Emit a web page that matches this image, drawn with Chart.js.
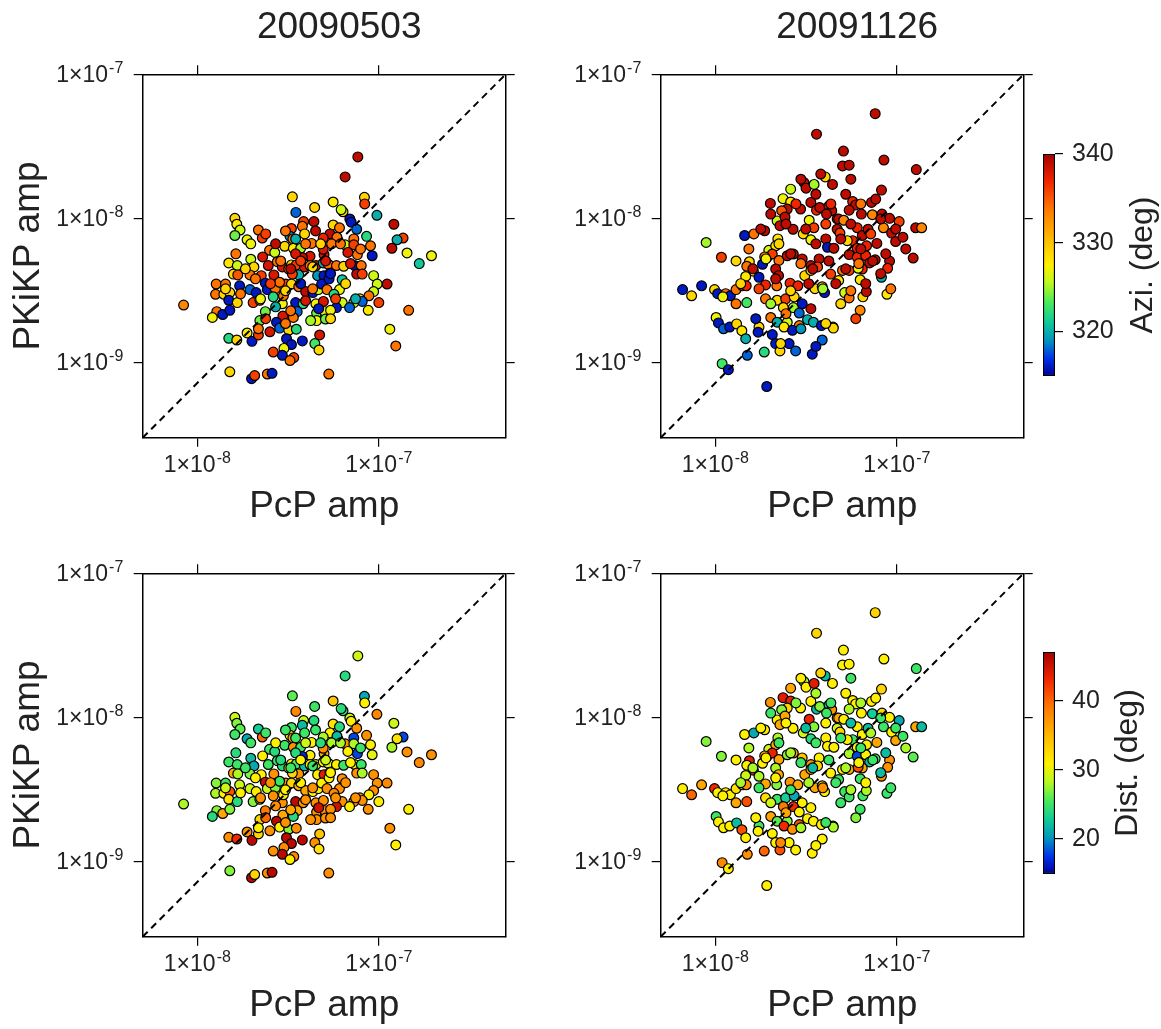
<!DOCTYPE html>
<html>
<head>
<meta charset="utf-8">
<title>PcP / PKiKP amplitudes</title>
<script src="https://cdn.jsdelivr.net/npm/chart.js@4.4.1/dist/chart.umd.min.js"></script>
<style>
  html, body { margin: 0; padding: 0; background: #fff; }
  #fig { position: relative; width: 1161px; height: 1029px; overflow: hidden; background: #fff; }
  #fig canvas { position: absolute; }
</style>
</head>
<body>
<div id="fig">
  <canvas id="p1" width="520" height="530" style="left:0;top:0"></canvas>
  <canvas id="p2" width="520" height="530" style="left:518px;top:0"></canvas>
  <canvas id="p3" width="520" height="530" style="left:0;top:499px"></canvas>
  <canvas id="p4" width="520" height="530" style="left:518px;top:499px"></canvas>
  <canvas id="cb1" width="131" height="270" style="left:1030px;top:130px"></canvas>
  <canvas id="cb2" width="131" height="270" style="left:1030px;top:628px"></canvas>
</div>
<script>
var FONT = "'Liberation Sans', Arial, Helvetica, sans-serif";

// event 20090503 (amplitudes in units of 1e-9)
var aPcp = [
  33.4, 44.3, 34.9, 16.1, 16.5, 17.2, 16.1, 18.8, 21.7, 22.8,
  38.5, 43.9, 33.0, 37.9, 39.0, 32.4, 33.6, 30.3, 33.8, 37.1,
  42.6, 49.9, 25.0, 26.7, 19.7, 20.5, 14.9, 16.6, 15.8, 16.7,
  19.5, 22.5, 24.6, 26.4, 27.6, 29.4, 31.9, 33.0, 35.1, 36.2,
  33.4, 38.9, 41.8, 37.9, 41.8, 45.0, 49.4, 52.6, 46.0, 49.9,
  12.7, 14.3, 12.6, 14.0, 15.1, 14.9, 16.6, 17.1, 19.5, 21.1,
  23.7, 24.3, 26.9, 30.7, 28.4, 33.0, 36.2, 39.5, 43.3, 46.4,
  48.4, 51.8, 20.3, 22.1, 26.2, 29.4, 29.8, 34.8, 38.3, 45.0,
  49.5, 8.4, 12.8, 13.8, 15.1, 12.1, 23.7, 29.6, 35.5, 33.8,
  45.4, 50.4, 22.1, 27.3, 28.4, 31.9, 35.1, 45.4, 50.8, 14.9,
  16.5, 18.8, 20.0, 21.7, 21.7, 25.1, 31.0, 33.0, 37.9, 44.4,
  47.2, 46.8, 30.0, 29.4, 26.2, 34.0, 32.4, 15.1, 19.9, 20.7,
  24.3, 25.8, 53.0,
  76.6, 65.2, 56.0, 83.3, 83.6, 63.5, 62.0, 97.6, 121, 136,
  126, 118, 143, 195, 167, 69.2, 70.4, 75.5, 56.0, 60.7,
  53.8, 49.4, 58.8, 72.8, 85.6, 90.0, 91.9, 76.2, 65.2, 72.8,
  67.5, 54.9, 49.4, 58.4, 64.0, 73.6, 80.0, 75.5, 81.0, 93.6,
  98.0, 111, 53.8, 53.2, 62.8, 60.7, 56.6, 93.6, 88.2, 78.6,
  100, 81.0, 72.8, 62.8, 58.4, 69.0, 87.4, 54.2, 146, 115,
  124,
  23.8, 27.0, 30.6, 34.8, 39.5, 44.8, 22.9, 28.8, 32.7, 37.1,
  43.2, 20.9, 25.3, 30.6, 37.1, 43.2, 22.3, 27.0, 32.7, 39.5,
  46.6, 18.4, 16.3, 19.7, 61.5, 69.8, 65.6, 57.8, 74.4, 79.3,
  54.2, 50.9, 17.3, 14.3, 42.1, 30.6, 54.2, 23.8, 34.8, 47.8
];
var aPkikp = [
  14.1, 11.9, 11.0, 10.0, 9.1, 8.3, 7.6, 7.1, 8.3, 7.3,
  9.5, 9.5, 8.5, 8.8, 7.8, 7.5, 7.2, 6.4, 6.2, 6.2,
  6.7, 5.6, 6.0, 5.8, 5.2, 4.6, 4.9, 4.7, 4.1, 4.05,
  4.05, 4.0, 4.7, 4.05, 5.0, 4.6, 4.45, 4.75, 4.75, 4.05,
  4.1, 4.6, 5.45, 5.35, 4.7, 4.7, 4.9, 4.8, 4.0, 4.0,
  3.5, 3.5, 2.97, 2.97, 3.05, 2.7, 2.6, 3.4, 3.2, 3.05,
  3.55, 3.2, 3.25, 3.5, 3.6, 3.5, 3.35, 3.1, 3.05, 3.2,
  3.5, 3.2, 2.6, 2.7, 2.85, 2.55, 2.9, 2.6, 2.55, 2.55,
  2.65, 2.5, 2.25, 2.15, 2.3, 2.05, 2.25, 2.1, 2.25, 2.05,
  2.2, 2.25, 1.95, 1.9, 1.73, 1.67, 1.7, 1.95, 2.0, 1.47,
  1.43, 1.6, 1.4, 1.55, 1.71, 1.63, 1.46, 1.33, 1.41, 1.35,
  1.55, 1.22, 1.25, 1.12, 1.18, 1.08, 1.03, 0.86, 0.77, 0.81,
  0.83, 0.84, 0.83,
  26.7, 19.4, 13.0, 14.0, 12.6, 11.1, 11.5, 10.5, 9.1, 7.3,
  7.1, 6.2, 5.75, 5.5, 4.85, 9.9, 9.4, 8.4, 9.0, 8.6,
  7.8, 7.3, 7.4, 7.2, 7.5, 6.45, 5.5, 5.6, 6.55, 6.55,
  5.8, 6.65, 6.1, 4.7, 4.65, 4.7, 4.7, 4.1, 4.1, 4.0,
  3.5, 3.5, 4.15, 3.8, 3.75, 3.2, 2.97, 3.1, 2.9, 2.76,
  2.6, 2.65, 2.6, 2.6, 2.4, 2.4, 2.3, 2.3, 2.3, 1.7,
  1.3,
  7.8, 6.65, 8.17, 5.67, 6.65, 8.17, 5.4, 5.06, 4.46, 5.06,
  4.6, 3.8, 3.52, 3.14, 3.52, 3.24, 2.76, 2.43, 2.28, 2.68,
  2.36, 4.46, 5.67, 6.65, 6.65, 4.85, 3.52, 2.76, 2.76, 6.13,
  4.13, 5.06, 2.99, 3.24, 1.95, 1.86, 2.01, 2.01, 7.19, 6.65
];
var aAzi = [
  329, 329, 318, 329, 328, 326, 324, 327, 334, 336,
  336, 339, 336, 334, 329, 319, 334, 329, 328, 325,
  334, 338, 334, 326, 326, 329, 328, 326, 329, 335,
  334, 336, 338, 338, 334, 338, 334, 329, 336, 320,
  336, 338, 338, 339, 334, 338, 320, 334, 319, 316,
  334, 334, 334, 329, 329, 316, 329, 316, 318, 316,
  316, 316, 334, 336, 334, 329, 334, 339, 316, 326,
  316, 334, 336, 334, 322, 327, 334, 316, 322, 327,
  338, 333, 334, 316, 316, 327, 324, 338, 318, 334,
  324, 327, 324, 316, 318, 329, 322, 327, 324, 322,
  329, 328, 316, 336, 334, 338, 316, 316, 316, 323,
  338, 329, 327, 316, 336, 336, 334, 329, 316, 336,
  334, 316, 334,
  339, 339, 328, 329, 336, 329, 326, 320, 339, 336,
  320, 339, 327, 327, 321, 316, 316, 318, 329, 334,
  339, 337, 334, 334, 322, 334, 316, 334, 326, 336,
  338, 334, 338, 334, 329, 316, 334, 339, 336, 326,
  326, 339, 316, 316, 321, 327, 322, 326, 334, 329,
  336, 318, 326, 326, 316, 318, 328, 327, 334, 327,
  334,
  336, 339, 334, 338, 334, 339, 338, 334, 339, 336,
  329, 334, 336, 329, 316, 334, 327, 320, 334, 338,
  316, 329, 334, 327, 334, 338, 329, 336, 320, 334,
  316, 338, 334, 329, 325, 334, 329, 336, 320, 329
];
var aDist = [
  26, 25, 38, 29, 27, 26, 25, 21, 23, 40,
  29, 24, 25, 22, 25, 31, 36, 25, 37.5, 25,
  31, 36, 25, 24, 22, 21, 25, 25, 36, 28,
  27, 31, 25, 37.5, 25, 24, 31, 31, 25, 37.5,
  33, 22, 31, 17, 31, 30, 31, 30, 31, 44,
  27, 25, 28, 31, 41, 32, 24, 29, 29, 31,
  45, 29, 27, 37.5, 25, 33, 36, 36, 31, 31,
  31, 37.5, 27, 31, 37.5, 37.5, 31, 46, 37.5, 37.5,
  37.5, 28, 27, 36, 27, 24, 39, 36, 36, 24,
  37.5, 37.5, 33, 46, 31, 27, 37.5, 37.5, 37.5, 37.5,
  43, 37.5, 46, 33, 31, 37.5, 46, 46, 46, 37.5,
  34, 32, 38, 46, 37.5, 38, 31, 27, 46, 33,
  37.5, 46, 37.5,
  29, 24, 34, 21, 31, 24, 24, 38, 29, 18,
  32, 28, 37.5, 37.5, 38, 29, 31, 37.5, 32, 24,
  31, 28, 22, 18, 37.5, 31, 30, 18, 37.5, 28,
  31, 28, 37.5, 31, 25, 31, 25, 37.5, 28, 37.5,
  37.5, 38, 31, 31, 37.5, 37.5, 38, 37.5, 31, 37.5,
  31, 37.5, 37.5, 37.5, 45, 31, 37.5, 37.5, 31, 37.5,
  31,
  25, 31, 25, 24, 29, 25, 31, 24, 25, 31,
  25, 31, 37.5, 31, 31, 37.5, 37.5, 37.5, 36, 37.5,
  45, 25, 24, 25, 28, 31, 37.5, 37.5, 37.5, 25,
  31, 29, 31, 29, 37.5, 37.5, 37.5, 40, 25, 24
];

// event 20091126 (amplitudes in units of 1e-9)
var bPcp = [
  36.1, 40.3, 44.2, 30.8, 31.6, 35.0, 20.1, 23.6, 26.0, 24.9,
  23.2, 29.5, 33.6, 36.1, 32.9, 34.9, 37.6, 42.3, 43.8, 41.0,
  46.9, 21.9, 22.7, 24.2, 26.8, 18.7, 14.5, 16.3, 8.9, 10.8,
  22.1, 30.5, 33.6, 40.6, 41.5, 46.9, 19.7, 21.5, 19.3, 20.6,
  22.4, 24.9, 26.9, 30.1, 33.6, 37.3, 36.6, 43.2,
  15.4, 14.9, 16.2, 18.2,
  18.7, 17.4, 14.7, 21.5, 22.3, 18.9, 21.8, 25.8, 28.5, 31.1,
  33.6, 35.4, 38.8, 40.0, 6.6, 7.4, 8.4, 9.9, 10.3, 11.4,
  12.1, 13.0, 14.1, 14.8, 14.9, 18.9, 21.9, 24.4, 27.2, 30.1,
  23.7, 26.9, 29.0, 20.2, 21.9, 24.9, 29.0, 32.2, 34.7, 38.4,
  44.5, 10.1, 10.4, 11.1, 12.0, 13.1, 14.0, 17.4, 17.2, 20.6,
  23.9, 26.6, 21.5, 25.5, 22.7, 27.7, 34.2, 38.8, 15.0, 18.6,
  10.9, 11.8, 19.2,
  76.0, 50.8, 50.2, 54.6, 84.9, 128, 82.3, 72.5, 57.1, 59.3,
  54.6, 63.8, 73.3, 82.8, 91.2, 103, 47.8, 51.0, 84.4, 93.6,
  98.5, 108, 127, 137, 48.6, 60.5, 64.5, 69.4, 57.1, 53.3,
  77.6, 68.1, 60.5, 45.0, 54.6, 60.5, 67.4, 76.0, 91.2, 89.0,
  123, 70.8, 64.5, 50.2, 54.6, 61.2, 82.3, 47.8, 62.8, 51.6,
  54.6, 65.0, 67.9, 88.2, 62.8, 44.7,
  20.2, 24.5, 27.8, 31.5, 35.8, 40.6, 49.1, 55.8, 63.3, 71.8,
  81.5, 22.4, 26.0, 29.6, 34.4, 42.2, 52.3, 61.7, 73.7, 86.9,
  19.0, 16.1, 13.8, 17.4, 21.5, 26.0, 32.7, 39.1, 46.1, 55.8,
  67.4, 81.5, 17.8, 15.3, 13.0, 29.6, 35.8, 43.3, 52.3, 63.3,
  26.0, 38.1, 55.8, 76.5, 98.6, 112, 92.6, 49.1, 33.6, 24.5,
  20.2, 16.7, 29.6, 40.6, 59.4, 13.0, 11.0, 14.7, 22.9, 35.8
];
var bPkikp = [
  38.4, 19.4, 17.2, 17.7, 16.2, 17.2, 12.7, 13.7, 13.0, 11.6,
  11.3, 11.6, 12.9, 11.4, 9.7, 8.6, 11.9, 12.2, 11.3, 10.7,
  9.9, 9.6, 8.9, 10.2, 8.4, 8.2, 7.6, 7.8, 6.8, 5.37,
  7.2, 7.8, 7.1, 7.2, 6.3, 8.4, 6.0, 6.45, 5.37, 5.65,
  5.1, 5.5, 5.65, 5.23, 4.7, 5.23, 4.6, 4.1,
  5.0, 4.65, 4.3, 4.8,
  5.4, 3.9, 3.95, 4.45, 4.0, 3.45, 3.4, 3.55, 3.4, 4.0,
  4.35, 3.25, 3.35, 3.05, 3.2, 2.9, 3.4, 3.2, 3.0, 3.0,
  2.9, 3.2, 3.4, 3.4, 2.6, 2.76, 2.7, 2.76, 2.85, 2.55,
  2.4, 2.4, 2.2, 2.05, 1.9, 1.9, 1.8, 1.98, 1.9, 1.8,
  1.76, 2.05, 1.88, 1.71, 1.76, 1.85, 1.66, 1.76, 1.62, 1.56,
  1.76, 1.67, 1.35, 1.35, 1.2, 1.2, 1.14, 1.43, 1.12, 1.18,
  0.98, 0.89, 0.68,
  53.3, 29.3, 23.1, 23.4, 25.4, 21.8, 15.7, 12.9, 13.1, 12.4,
  11.4, 10.7, 10.6, 10.7, 10.0, 9.5, 9.9, 9.7, 8.6, 7.9,
  6.9, 7.4, 8.6, 8.6, 7.9, 8.6, 7.6, 8.4, 7.0, 7.0,
  6.7, 6.45, 6.2, 6.2, 5.6, 5.37, 5.5, 5.15, 5.05, 4.5,
  5.3, 4.9, 4.45, 4.35, 4.35, 4.5, 3.9, 3.7, 3.75, 3.05,
  2.8, 2.85, 3.1, 2.97, 2.3, 1.73,
  10.7, 9.13, 12.6, 8.43, 6.65, 9.13, 7.19, 9.13, 6.13, 7.8,
  9.9, 6.65, 5.67, 4.85, 4.46, 5.06, 4.46, 4.85, 5.06, 5.67,
  5.23, 4.46, 3.52, 3.24, 3.8, 3.14, 3.52, 3.24, 3.52, 3.14,
  3.52, 4.13, 8.43, 6.13, 5.06, 18.7, 14.7, 12.6, 14.7, 12.6,
  15.95, 20.3, 18.7, 13.6, 8.43, 6.13, 3.24, 2.55, 2.36, 2.18,
  2.55, 2.01, 1.71, 1.86, 2.01, 2.55, 2.85, 1.46, 1.35, 1.29
];
var bAzi = [
  339, 329, 339, 339, 339, 325, 339, 327, 328, 339,
  335, 339, 339, 337, 327, 336, 339, 339, 339, 339,
  339, 326, 339, 339, 339, 339, 316, 334, 325, 336,
  328, 329, 327, 339, 316, 339, 326, 328, 329, 336,
  334, 339, 339, 339, 339, 339, 336, 336,
  329, 334, 329, 316,
  334, 316, 328, 339, 339, 337, 334, 337, 337, 329,
  329, 329, 329, 316, 316, 329, 316, 329, 316, 334,
  316, 334, 337, 337, 323, 334, 329, 336, 329, 316,
  329, 325, 318, 334, 320, 326, 334, 320, 320, 316,
  329, 327, 316, 318, 316, 329, 328, 329, 316, 316,
  328, 316, 316, 316, 329, 318, 316, 318, 318, 322,
  323, 316, 316,
  339, 339, 339, 339, 339, 339, 339, 339, 337, 339,
  339, 339, 333, 339, 339, 336, 339, 333, 333, 339,
  339, 339, 339, 333, 336, 337, 339, 339, 337, 329,
  339, 337, 337, 339, 339, 337, 337, 339, 339, 337,
  339, 339, 337, 334, 336, 327, 320, 328, 328, 326,
  334, 329, 339, 328, 333, 329,
  339, 339, 337, 339, 339, 336, 339, 339, 339, 336,
  339, 329, 339, 334, 339, 339, 339, 334, 339, 339,
  327, 339, 329, 336, 339, 329, 339, 325, 339, 334,
  339, 339, 339, 334, 329, 339, 339, 337, 339, 334,
  326, 339, 339, 339, 339, 339, 334, 329, 339, 334,
  325, 316, 319, 329, 336, 334, 327, 320, 329, 316
];
var bDist = [
  33, 22, 31, 28, 31, 44, 37.5, 44, 43.5, 33,
  27, 31, 31, 22, 43.5, 27, 27, 22, 37.5, 25,
  31, 31, 36, 36, 31, 31, 31, 21, 27, 27,
  28, 29, 24, 31, 31, 29, 29, 36, 26, 43.5,
  36, 27, 36, 34, 37.5, 31, 33, 31,
  44, 31, 43.5, 31,
  36, 28, 29, 28, 36, 36, 27, 37.5, 36, 36,
  36, 36, 31, 31, 31, 40, 36, 43, 31, 32,
  31, 32, 36, 37.5, 41, 32, 25, 23, 21, 31,
  39, 43, 31, 36, 26, 27, 41, 31, 31, 31,
  28, 25, 31, 31, 31, 22, 41, 25, 31, 31,
  43, 37.5, 31, 31, 41, 31, 31, 31, 37.5, 40,
  38, 31, 31,
  33, 31, 31, 31, 31, 25, 33, 31, 31, 31,
  28, 31, 23, 33, 31, 21, 36, 31, 25, 31,
  36, 25, 36, 22, 33, 31, 31, 22, 25, 31,
  36, 31, 31, 31, 28, 18, 31, 25, 37.5, 37.5,
  26, 22, 36, 31, 36, 41, 37.5, 25, 25, 25,
  25, 25, 28, 25, 25, 28,
  25, 31, 27, 22, 25, 31, 25, 22, 25, 28,
  25, 25, 28, 25, 22, 25, 28, 31, 25, 22,
  31, 28, 28, 25, 31, 25, 28, 37.5, 25, 28,
  31, 22, 31, 28, 31, 31, 28, 25, 31, 28,
  36, 33, 25, 31, 25, 28, 25, 25, 31, 36,
  29, 31, 28, 25, 27, 36, 31, 31, 38, 31
];

var eventNames = ['20090503', '20091126'];
var xRange = [5e-9, 5e-7];
var yRange = [3e-10, 1e-7];
var xTickValues = [1e-8, 1e-7];
var xTickLabels = [['1×10', '-8'], ['1×10', '-7']];
var yTickValues = [1e-9, 1e-8, 1e-7];
var yTickLabels = [['1×10', '-9'], ['1×10', '-8'], ['1×10', '-7']];
var diagonal = [{x: 5e-9, y: 3e-10}, {x: 5e-7, y: 1e-7}];
var aziRange = [315, 340];
var aziTicks = [320, 330, 340];
var distRange = [14.9, 47.1];
var distTicks = [20, 30, 40];

// colour table of the colour bars (blue -> green -> yellow -> red)
var cmapStops = [
  [0.00, [0, 0, 150]],
  [0.08, [0, 50, 235]],
  [0.16, [0, 150, 190]],
  [0.25, [20, 205, 150]],
  [0.33, [70, 235, 90]],
  [0.42, [190, 250, 30]],
  [0.50, [255, 240, 0]],
  [0.58, [255, 205, 0]],
  [0.66, [255, 165, 0]],
  [0.76, [255, 115, 0]],
  [0.88, [240, 35, 0]],
  [1.00, [165, 0, 0]]
];

function cmap(t) {
    t = Math.max(0, Math.min(1, t));
    for (var i = 1; i < cmapStops.length; i++) {
        if (t <= cmapStops[i][0]) {
            var a = cmapStops[i - 1], b = cmapStops[i];
            var f = (t - a[0]) / (b[0] - a[0]);
            var c = [0, 1, 2].map(function (k) { return Math.round(a[1][k] + f * (b[1][k] - a[1][k])); });
            return 'rgb(' + c.join(',') + ')';
        }
    }
    return 'rgb(165,0,0)';
}

// panel titles and rotated colour bar labels
var textPlugin = {
    id: 'panelText',
    afterDraw: function (chart, args, opts) {
        if (!opts.text) {
            return;
        }
        var ctx = chart.ctx, ca = chart.chartArea;
        ctx.save();
        ctx.font = opts.size + 'px ' + FONT;
        ctx.fillStyle = '#222';
        ctx.textAlign = 'center';
        ctx.textBaseline = 'alphabetic';
        if (opts.rotate) {
            ctx.translate(opts.x, (ca.top + ca.bottom) / 2);
            ctx.rotate(-Math.PI / 2);
            ctx.fillText(opts.text, 0, 0);
        } else {
            ctx.fillText(opts.text, (ca.left + ca.right) / 2 + opts.dx, opts.y);
        }
        ctx.restore();
    }
};

// "1x10^n" tick labels with a real superscript, placed with the scales' own pixels
function drawSci(ctx, parts, x, y, align) {
    ctx.font = '23px ' + FONT;
    var wb = ctx.measureText(parts[0]).width;
    ctx.font = '16px ' + FONT;
    var ws = ctx.measureText(parts[1]).width;
    var x0 = align === 'right' ? x - wb - ws - 1 : x - (wb + ws + 1) / 2;
    ctx.font = '23px ' + FONT;
    ctx.fillText(parts[0], x0, y);
    ctx.font = '16px ' + FONT;
    ctx.fillText(parts[1], x0 + wb + 1, y - 9);
}

var sciTicks = {
    id: 'sciTicks',
    afterDraw: function (chart) {
        var ctx = chart.ctx, ca = chart.chartArea;
        var xs = chart.scales.x, ys = chart.scales.y;
        ctx.save();
        ctx.fillStyle = '#222';
        ctx.textAlign = 'left';
        ctx.textBaseline = 'alphabetic';
        xTickValues.forEach(function (v, i) {
            drawSci(ctx, xTickLabels[i], xs.getPixelForValue(v), ca.bottom + 34, 'center');
        });
        yTickValues.forEach(function (v, i) {
            drawSci(ctx, yTickLabels[i], ca.left - 19.4, ys.getPixelForValue(v) + 8, 'right');
        });
        ctx.restore();
    }
};

function setTicks(values) {
    return function (scale) {
        scale.ticks = values.map(function (v) { return {value: v}; });
    };
}

function logAxis(position, range, values, size, title) {
    return {
        type: 'logarithmic',
        position: position,
        min: range[0],
        max: range[1],
        afterBuildTicks: setTicks(values),
        afterFit: function (scale) {
            if (scale.isHorizontal()) {
                scale.height = size;
            } else {
                scale.width = size;
            }
        },
        border: {display: true, color: '#000', width: 1.5},
        grid: {display: true, drawOnChartArea: false, drawTicks: true, tickLength: 9, color: '#000', lineWidth: 1.2},
        ticks: {display: false},
        title: title ? {
            display: true,
            text: title,
            color: '#222',
            font: {family: FONT, size: 37, lineHeight: 1.2},
            padding: position === 'left' ? {top: 7, bottom: 0} : {top: 0, bottom: 1}
        } : {display: false}
    };
}

function panel(id, pcp, pkikp, values, range, title, yTitle) {
    var points = pcp.map(function (v, i) { return {x: v * 1e-9, y: pkikp[i] * 1e-9}; });
    var colors = values.map(function (v) { return cmap((v - range[0]) / (range[1] - range[0])); });
    return new Chart(document.getElementById(id), {
        type: 'scatter',
        data: {
            datasets: [
                {
                    data: diagonal,
                    showLine: true,
                    borderColor: '#000',
                    borderWidth: 2,
                    borderDash: [7, 5],
                    pointRadius: 0,
                    fill: false
                },
                {
                    data: points,
                    pointBackgroundColor: colors,
                    pointBorderColor: '#000',
                    pointBorderWidth: 1.2,
                    pointRadius: 4.9
                }
            ]
        },
        options: {
            responsive: false,
            animation: false,
            devicePixelRatio: 1,
            events: [],
            layout: {padding: {top: 65.3, right: 5.3, left: 0, bottom: 0}},
            plugins: {
                legend: {display: false},
                tooltip: {enabled: false},
                panelText: {text: title, size: 37, dx: 15, y: 38}
            },
            scales: {
                x: logAxis('bottom', xRange, xTickValues, 92.3, 'PcP amp'),
                x2: logAxis('top', xRange, xTickValues, 9, null),
                y: logAxis('left', yRange, yTickValues, 142.7, yTitle),
                y2: logAxis('right', yRange, yTickValues, 9, null)
            }
        },
        plugins: [textPlugin, sciTicks]
    });
}

function colorbar(id, range, ticks, label, labelX, padTop, padBottom) {
    return new Chart(document.getElementById(id), {
        type: 'bar',
        data: {
            labels: [''],
            datasets: [{
                data: [[range[0], range[1]]],
                backgroundColor: function (c) {
                    var ca = c.chart.chartArea;
                    if (!ca) {
                        return 'rgba(0,0,0,0)';
                    }
                    var g = c.chart.ctx.createLinearGradient(0, ca.bottom, 0, ca.top);
                    for (var i = 0; i <= 40; i++) {
                        g.addColorStop(i / 40, cmap(i / 40));
                    }
                    return g;
                },
                borderColor: '#000',
                borderWidth: 1.5,
                borderSkipped: false,
                barPercentage: 1,
                categoryPercentage: 1
            }]
        },
        options: {
            responsive: false,
            animation: false,
            devicePixelRatio: 1,
            events: [],
            layout: {padding: {left: 13, top: padTop, bottom: padBottom, right: 0}},
            plugins: {
                legend: {display: false},
                tooltip: {enabled: false},
                panelText: {text: label, size: 32, rotate: true, x: labelX}
            },
            scales: {
                x: {display: false},
                y: {
                    position: 'right',
                    min: range[0],
                    max: range[1],
                    afterBuildTicks: setTicks(ticks),
                    afterFit: function (scale) { scale.width = 106; },
                    border: {display: false},
                    grid: {display: true, drawOnChartArea: false, drawTicks: true, tickLength: 8, color: '#000', lineWidth: 1.2},
                    ticks: {color: '#222', padding: 9, font: {family: FONT, size: 25}}
                }
            }
        },
        plugins: [textPlugin]
    });
}

panel('p1', aPcp, aPkikp, aAzi, aziRange, eventNames[0], 'PKiKP amp');
panel('p2', bPcp, bPkikp, bAzi, aziRange, eventNames[1], null);
panel('p3', aPcp, aPkikp, aDist, distRange, null, 'PKiKP amp');
panel('p4', bPcp, bPkikp, bDist, distRange, null, null);
colorbar('cb1', aziRange, aziTicks, 'Azi. (deg)', 122, 20, 20);
colorbar('cb2', distRange, distTicks, 'Dist. (deg)', 107, 20.3, 18.7);
</script>
</body>
</html>
